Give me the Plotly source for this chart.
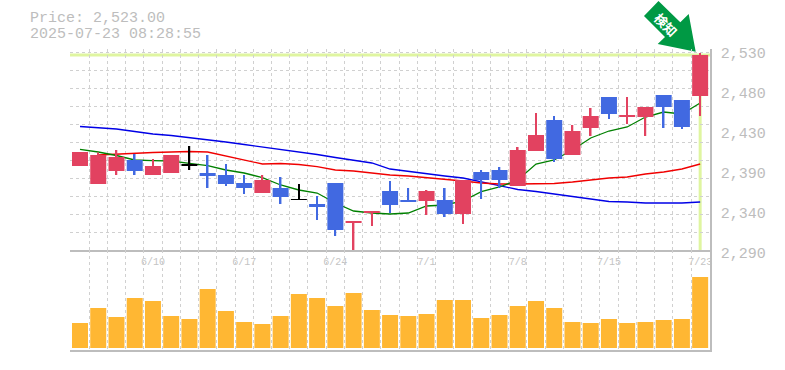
import plotly.graph_objects as go

DATES = ["6/4","6/5","6/6","6/9","6/10","6/11","6/12","6/13","6/16","6/17","6/18","6/19","6/20","6/23","6/24","6/25","6/26","6/27","6/30","7/1","7/2","7/3","7/4","7/7","7/8","7/9","7/10","7/11","7/14","7/15","7/16","7/17","7/18","7/22","7/23"]
OPEN = [2389.8,2368.2,2383.8,2397,2379,2381.4,2391.6,2381.4,2379,2369.4,2357.4,2363.4,2350.2,2344.2,2369.4,2321.4,2333.4,2359.8,2349,2347.8,2349,2332.2,2382.6,2385,2365.8,2407.8,2445,2403,2435.4,2472.6,2448.6,2448.6,2475,2469,2473.8]
CLOSE = [2406.6,2403,2400.6,2383.8,2389.8,2403,2390.4,2377.8,2368.2,2363.4,2373,2352.6,2349.4,2340.6,2313,2323.8,2335.8,2343,2346.6,2359.8,2332.2,2373,2373,2373,2409,2427,2398.2,2431.8,2449.8,2452.2,2451,2460.6,2460.6,2436.6,2523]
HIGH = [2406.6,2406,2409,2404.2,2398.2,2403,2413.8,2403,2392.2,2379,2379,2376.6,2368.2,2353.8,2369.4,2323.8,2335.8,2371.8,2363.4,2361,2363.4,2373,2385,2388.6,2412.6,2453.4,2449.8,2439,2459.4,2472.6,2472.6,2460.6,2475,2469,2525.4]
LOW = [2389.8,2368.2,2379,2379,2379,2381.4,2385,2363.4,2365.8,2356.2,2357.4,2344.2,2349.4,2325,2305.8,2288,2317.8,2333.4,2346.6,2331,2328.6,2320.2,2350.2,2363.4,2365.8,2407.8,2394.6,2403,2425.8,2446.2,2440.2,2425.8,2435.4,2434.2,2449.8]
MA_SHORT = [2409.8,2406.6,2402.4,2397,2396.2,2395.8,2393,2390.2,2385,2381.4,2375.8,2367,2361,2357.4,2345.4,2335.8,2333.4,2332.2,2333.4,2341.8,2343,2347.8,2359,2364.6,2373,2392.2,2397,2409,2423.4,2431.8,2436.6,2448.6,2454.6,2452.2,2465.4]
MA_MID = [None,2403,2404.2,2405.4,2406,2406.6,2407.2,2406.6,2401.8,2397,2392.2,2392.8,2391.6,2389,2385,2383.8,2381.4,2379,2377.8,2376,2373.6,2371.8,2369.4,2368.2,2368.2,2368.2,2368.8,2370.6,2373,2375.4,2376.6,2380.2,2382.6,2386.2,2392.2]
MA_LONG = [2437.2,2436,2434.2,2431.2,2428.2,2426.4,2424,2421,2418.6,2415.6,2412.6,2409.6,2407.2,2403.6,2400,2397,2393.4,2386.2,2383.2,2380.2,2377.8,2375.4,2370.6,2365.8,2361.6,2359.2,2356.2,2352.6,2350.2,2347.2,2346.6,2345.4,2345.4,2345.4,2346.6]
VOLUME = [25,40,31,50,47,32,29,59,37,26,24,32,54,50,42,55,38,33,32,34,48,48,30,33,42,47,40,26,25,29,25,26,28,29,71]
X_LABELS = ["6/10","6/17","6/24","7/1","7/8","7/15","7/23"]
Y_LABELS = ["2,530","2,480","2,430","2,390","2,340","2,290"]
Y_TICK_VALUES = [2529,2481,2433,2385,2337,2289]
PRICE_TEXT = "Price: 2,523.00"
TIME_TEXT = "2025-07-23 08:28:55"
SIGNAL_TEXT = "検知"

RED, BLUE, BLACK = "#E24260", "#4169E1", "#000000"
GRID = "#d0d0d0"
AXIS = "#bdbdbd"
HILITE = "#dff5a0"
W, H = 785, 370
L, R, T, B = 70, 710, 49, 350
MID = 250
MONO = "Liberation Mono"


def px(x, y):
    return (x - L) / (R - L), (B - y) / (B - T)


xs = list(range(len(DATES)))
X_RANGE = [-0.548, 34.54]
Y_RANGE = [2289, 2530.2]
colors = [BLACK if abs(c - o) < 2 else (RED if c > o else BLUE) for o, c in zip(OPEN, CLOSE)]

fig = go.Figure()
for vals, col in [(MA_LONG, "#0000e6"), (MA_MID, "#f00000"), (MA_SHORT, "#008000")]:
    fig.add_trace(go.Scatter(x=xs, y=vals, mode="lines", line=dict(color=col, width=1.3),
                             hoverinfo="skip", showlegend=False, xaxis="x", yaxis="y"))

fig.add_trace(go.Bar(x=xs, base=LOW, y=[h - l for h, l in zip(HIGH, LOW)], width=1.6 / 18.24,
                     marker=dict(color=colors, line=dict(width=0)), showlegend=False,
                     xaxis="x3", yaxis="y3"))
fig.add_trace(go.Bar(x=xs, base=[min(o, c) for o, c in zip(OPEN, CLOSE)],
                     y=[abs(o - c) for o, c in zip(OPEN, CLOSE)], width=16 / 18.24,
                     marker=dict(color=colors, line=dict(width=0)), showlegend=False,
                     xaxis="x3", yaxis="y3"))
fig.add_trace(go.Bar(x=xs, y=VOLUME, width=16 / 18.24, marker=dict(color="#FFB733", line=dict(width=0)),
                     showlegend=False, xaxis="x2", yaxis="y2"))

minor_x = dict(tickmode="linear", tick0=-0.5, dtick=1, showgrid=True, gridcolor=GRID, griddash="3px,3px", gridwidth=1, ticklen=0)
vol_domain = (B - MID) / (B - T)

fig.update_layout(
    width=W, height=H, autosize=False, paper_bgcolor="white", plot_bgcolor="white",
    margin=dict(l=L, r=W - R, t=T, b=H - B, pad=0), barmode="overlay", showlegend=False,
    xaxis=dict(domain=[0, 1], anchor="y", range=X_RANGE, tickmode="array", automargin=False,
               tickvals=[DATES.index(d) for d in X_LABELS], ticktext=X_LABELS,
               tickfont=dict(family=MONO, size=10, color="#c4c4c4"), ticks="", showgrid=False,
               minor=minor_x, showline=True, linecolor=AXIS, linewidth=1.5, zeroline=False,
               ticklabelstandoff=1),
    yaxis=dict(domain=[vol_domain, 1], anchor="x", side="right", range=Y_RANGE, tickmode="array", automargin=False,
               tickvals=Y_TICK_VALUES, ticktext=Y_LABELS, ticklabelshift=3,
               tickfont=dict(family=MONO, size=15, color="#bdbdbd"), ticks="", showgrid=False,
               minor=dict(tickmode="linear", tick0=2289, dtick=21.6, showgrid=True, gridcolor=GRID, griddash="3px,3px",
                          gridwidth=1, ticklen=0),
               showline=True, linecolor=AXIS, linewidth=1.5, zeroline=False, ticklabelstandoff=6),
    xaxis2=dict(domain=[0, 1], anchor="y2", range=X_RANGE, showticklabels=False, ticks="", showgrid=False, automargin=False,
                minor=minor_x, showline=True, linecolor=AXIS, linewidth=1.5, zeroline=False),
    yaxis2=dict(domain=[0, vol_domain], anchor="x2", side="right", range=[-2, 98], showticklabels=False, automargin=False,
                ticks="", showgrid=False, showline=True, linecolor=AXIS, linewidth=1.5, zeroline=False),
    xaxis3=dict(overlaying="x", anchor="y3", range=X_RANGE, visible=False, automargin=False),
    yaxis3=dict(overlaying="y", anchor="x3", range=Y_RANGE, visible=False, automargin=False),
)

# current-price crosshair
fig.add_shape(type="line", layer="below", xref="x domain", yref="y", x0=0, x1=1, y0=CLOSE[-1], y1=CLOSE[-1],
              line=dict(color=HILITE, width=3))
fig.add_shape(type="line", layer="below", xref="x", yref="y", x0=xs[-1], x1=xs[-1], y0=Y_RANGE[0], y1=CLOSE[-1],
              line=dict(color=HILITE, width=3))

# signal arrow
poly = [(658.5, 1), (644, 16), (665, 37), (657.7, 44), (695.7, 51.7), (688.7, 14), (680.3, 22.3)]
path = "M " + " L ".join("{:.5f} {:.5f}".format(*px(*p)) for p in poly) + " Z"
fig.add_shape(type="path", path=path, xref="paper", yref="paper", fillcolor="#009944", line=dict(width=0), layer="below")

ax, ay = px(666, 24.5)
fig.add_annotation(x=ax, y=ay, xref="paper", yref="paper", text="<b>" + SIGNAL_TEXT + "</b>", textangle=45,
                   showarrow=False, xanchor="center", yanchor="middle",
                   font=dict(family="Noto Sans CJK JP", size=13, color="white"))
for text, cy in [(PRICE_TEXT, 18), (TIME_TEXT, 35)]:
    tx, ty = px(28, cy)
    fig.add_annotation(x=tx, y=ty, xref="paper", yref="paper", text=text, xanchor="left", yanchor="middle",
                       showarrow=False, font=dict(family=MONO, size=15, color="#bdbdbd"))

fig.write_html("out.html", config=dict(displayModeBar=False),
               post_script="document.body.style.margin='0';document.documentElement.style.overflow='hidden';")
